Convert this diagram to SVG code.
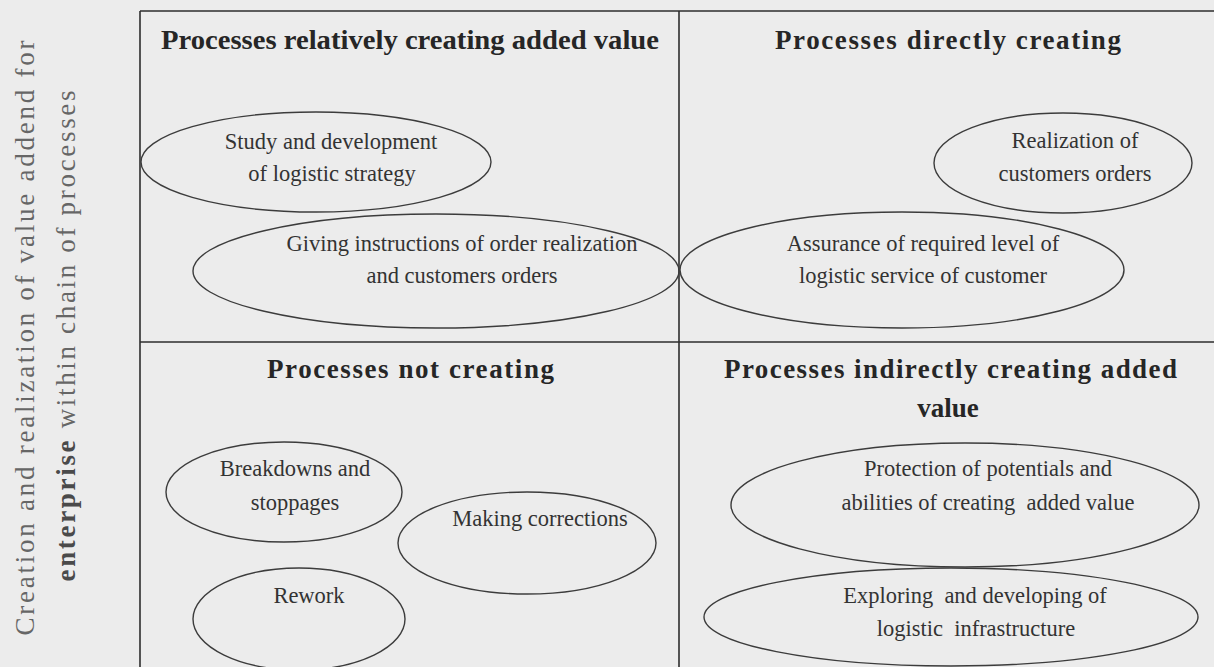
<svg xmlns="http://www.w3.org/2000/svg" width="1214" height="667" viewBox="0 0 1214 667">
<style>
.bg{fill:#ececec}
.grid{stroke:#2e2e2e;stroke-width:1.6;fill:none}
.ell{fill:none;stroke:#3c3c3c;stroke-width:1.4}
.title{font-family:"Liberation Serif","Times New Roman",serif;font-weight:bold;font-size:27px;fill:#262626}
.lbl{font-family:"Liberation Serif","Times New Roman",serif;font-size:22.5px;fill:#333}
.axis{font-family:"Liberation Serif","Times New Roman",serif;font-size:27px;fill:#666}
</style>
<rect class="bg" x="0" y="0" width="1214" height="667"/>
<g id="axis-label">
<text class="axis" transform="translate(34,338) rotate(-90)" text-anchor="middle" textLength="595" lengthAdjust="spacing">Creation and realization of value addend for</text>
<text class="axis" transform="translate(75,336) rotate(-90)" text-anchor="middle" textLength="491" lengthAdjust="spacing"><tspan font-weight="bold" fill="#4a4a4a">enterprise</tspan> within chain of processes</text>
</g>
<g id="grid">
<line class="grid" x1="140" y1="11" x2="1214" y2="11"/>
<line class="grid" x1="140" y1="11" x2="140" y2="667"/>
<line class="grid" x1="679" y1="11" x2="679" y2="667"/>
<line class="grid" x1="140" y1="342" x2="1214" y2="342"/>
</g>
<g id="q-relatively">
<text class="title" x="161" y="49" textLength="498" lengthAdjust="spacingAndGlyphs">Processes relatively creating added value</text>
</g>
<g id="q-directly">
<text class="title" x="775" y="49" textLength="346" lengthAdjust="spacing">Processes directly creating</text>
</g>
<g id="q-not">
<text class="title" x="267" y="378" textLength="287" lengthAdjust="spacing">Processes not creating</text>
</g>
<g id="q-indirectly">
<text class="title" x="724" y="378" textLength="453" lengthAdjust="spacing">Processes indirectly creating added</text>
<text class="title" x="948" y="417" text-anchor="middle">value</text>
</g>
<g id="n-study">
<ellipse class="ell" cx="316" cy="162" rx="175" ry="50"/>
<text class="lbl" x="331" y="149" text-anchor="middle">Study and development</text>
<text class="lbl" x="332" y="181" text-anchor="middle">of logistic strategy</text>
</g>
<g id="n-giving">
<ellipse class="ell" cx="436" cy="271" rx="243" ry="57"/>
<text class="lbl" x="462" y="251" text-anchor="middle">Giving instructions of order realization</text>
<text class="lbl" x="462" y="283" text-anchor="middle">and customers orders</text>
</g>
<g id="n-realization">
<ellipse class="ell" cx="1063" cy="163" rx="129" ry="50"/>
<text class="lbl" x="1075" y="148" text-anchor="middle">Realization of</text>
<text class="lbl" x="1075" y="181" text-anchor="middle">customers orders</text>
</g>
<g id="n-assurance">
<ellipse class="ell" cx="902" cy="270" rx="222" ry="58"/>
<text class="lbl" x="923" y="251" text-anchor="middle">Assurance of required level of</text>
<text class="lbl" x="923" y="283" text-anchor="middle">logistic service of customer</text>
</g>
<g id="n-breakdowns">
<ellipse class="ell" cx="284" cy="492" rx="118" ry="50"/>
<text class="lbl" x="295" y="476" text-anchor="middle">Breakdowns and</text>
<text class="lbl" x="295" y="510" text-anchor="middle">stoppages</text>
</g>
<g id="n-corrections">
<ellipse class="ell" cx="527" cy="543" rx="129" ry="51"/>
<text class="lbl" x="540" y="526" text-anchor="middle">Making corrections</text>
</g>
<g id="n-rework">
<ellipse class="ell" cx="299" cy="619" rx="106" ry="51"/>
<text class="lbl" x="309" y="603" text-anchor="middle">Rework</text>
</g>
<g id="n-protection">
<ellipse class="ell" cx="965" cy="505" rx="234" ry="62"/>
<text class="lbl" x="988" y="476" text-anchor="middle">Protection of potentials and</text>
<text class="lbl" x="988" y="510" text-anchor="middle" xml:space="preserve">abilities of creating  added value</text>
</g>
<g id="n-exploring">
<ellipse class="ell" cx="951" cy="617" rx="247" ry="49"/>
<text class="lbl" x="975" y="603" text-anchor="middle" xml:space="preserve">Exploring  and developing of</text>
<text class="lbl" x="976" y="636" text-anchor="middle" xml:space="preserve">logistic  infrastructure</text>
</g>
</svg>
